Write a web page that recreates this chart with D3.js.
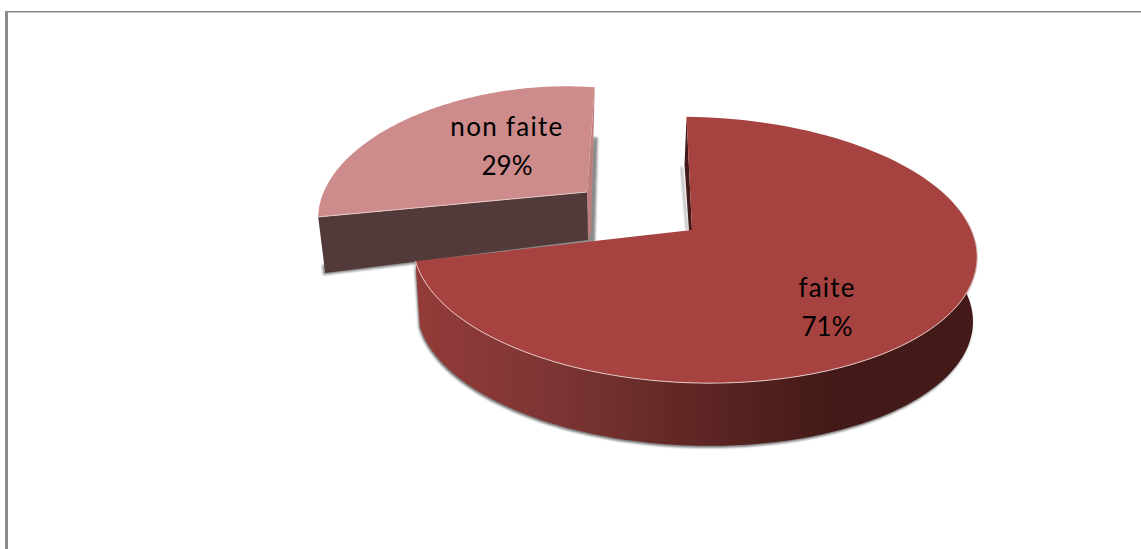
<!DOCTYPE html>
<html>
<head>
<meta charset="utf-8">
<script src="https://cdn.jsdelivr.net/npm/d3@7/dist/d3.min.js"></script>
<style>
html,body{margin:0;padding:0;background:#fff;overflow:hidden}
svg{display:block}
text{font-family:Lato,"Open Sans",sans-serif;fill:#000;text-anchor:middle}
</style>
</head>
<body>
<svg id="chart" width="1141" height="549"></svg>
<script>
// Share of work done / not done, shown as an exploded 3D pie
const categories = ["faite", "non faite"];
const shares = [71, 29];

const deg = Math.PI / 180;
const svg = d3.select("#chart");

// Chart frame: top and left rules only
svg.append("rect").attr("x", 5).attr("y", 11).attr("width", 1136).attr("height", 1.5).attr("fill", "#878787");
svg.append("rect").attr("x", 5).attr("y", 11).attr("width", 3).attr("height", 538).attr("fill", "#8c8c8c");

const defs = svg.append("defs");
defs.append("filter").attr("id", "soft").attr("x", "-5%").attr("y", "-5%").attr("width", "110%").attr("height", "110%")
  .append("feGaussianBlur").attr("stdDeviation", 1.3);

const wallGrad = defs.append("linearGradient").attr("id", "wall")
  .attr("gradientUnits", "userSpaceOnUse").attr("x1", 420).attr("x2", 970).attr("y1", 0).attr("y2", 0);
[[0, "#933b39"], [0.25, "#7c3533"], [0.5, "#5f2624"], [0.75, "#431a17"], [1, "#431a17"]]
  .forEach(([o, c]) => wallGrad.append("stop").attr("offset", o).attr("stop-color", c));

const pie = d3.pie().sort(null).startAngle(-2 * deg).endAngle(358 * deg);
const arcs = pie(shares);

const line = d3.line();
const sweep = (a0, a1) => d3.range(0, 121).map(i => a0 + (a1 - a0) * i / 120);

// Perspective ground-plane projection of a rim angle onto the page
function projector(p) {
  return a => {
    const s = 1 / (1 + p.persp * Math.cos(a));
    const dx = p.rx * Math.sin(a) * s;
    const dy = -p.ry * Math.cos(a) * s;
    return [p.cx + dx, p.cy + dy + p.roll * dx];
  };
}

const bigView = { cx: 695, cy: 230, rx: 279, ry: 130, persp: 0.15, roll: 0.025, apex: [692, 230], depth: 65, shrink: 0.985 };
// The pulled-out slice uses its own elliptical frame around its mid angle
const smallView = { cx: 538, cy: 203, ux: -133, uy: -83, vx: 175, vy: -82, apex: [587, 192] };

function lowerRim(view, pts) {
  return pts.map(([x, y]) => [view.cx + (x - view.cx) * view.shrink, view.cy + (y - view.cy) * view.shrink + view.depth]);
}

// --- "non faite" slice, set back to the upper left ---
{
  const d = arcs[1], mid = (d.startAngle + d.endAngle) / 2, v = smallView;
  const proj = a => {
    const c = Math.cos(a - mid), s = Math.sin(a - mid);
    return [v.cx + v.ux * c + v.vx * s, v.cy + v.uy * c + v.vy * s];
  };
  const rim = sweep(d.startAngle, d.endAngle).map(proj);
  const left = rim[0], top = rim[rim.length - 1], ap = v.apex;
  const leftLow = [left[0] + 7, left[1] + 56];
  const apLow = [ap[0] + 1, ap[1] + 48];
  const g = svg.append("g");
  // soft cast shadow behind the cut faces
  g.append("path").attr("d", line([[top[0] - 2, top[1] + 50], [top[0] + 3, top[1] + 50], [apLow[0] + 7, apLow[1] + 2], [leftLow[0] - 2, leftLow[1] + 2], [leftLow[0] - 3, leftLow[1] - 8], [apLow[0], apLow[1] - 30]]) + "Z")
    .attr("fill", "#8a8a8a").attr("filter", "url(#soft)");
  g.append("path").attr("d", line([top, ap, apLow, [apLow[0] + 3, apLow[1] - 8]]) + "Z").attr("fill", "#bd7f7e");
  g.append("path").attr("d", line([left, ap, apLow, leftLow]) + "Z").attr("fill", "#523a3a");
  g.append("path").attr("d", line([...rim, ap]) + "Z").attr("fill", "#cd8c8b");
  g.append("path").attr("d", line([left, ap])).attr("fill", "none").attr("stroke", "#e6c9c8").attr("stroke-width", 1);
}

// --- "faite" slice ---
{
  const d = arcs[0], proj = projector(bigView);
  const rim = sweep(d.startAngle, d.endAngle).map(proj);
  const ap = bigView.apex, top = rim[0];
  const visible = sweep(75 * deg, d.endAngle).map(proj);
  const band = [...visible, ...lowerRim(bigView, visible).reverse()];
  const g = svg.append("g");
  g.append("path").attr("d", line(band) + "Z").attr("transform", "translate(-1,2)")
    .attr("fill", "#777").attr("filter", "url(#soft)");
  // inner cut face visible beside the vertical edge
  g.append("path").attr("d", line([[top[0] - 4, top[1] + 50], [ap[0] - 4, ap[1]], [ap[0] - 6, ap[1]], [top[0] - 6, top[1] + 50]]) + "Z")
    .attr("fill", "#a9a9a9").attr("filter", "url(#soft)");
  g.append("path").attr("d", line([top, ap, [ap[0] - 3, ap[1] + 1], [top[0] - 2, top[1] + 48]]) + "Z").attr("fill", "#431a17");
  g.append("path").attr("d", line(band) + "Z").attr("fill", "url(#wall)");
  g.append("path").attr("d", line([...rim, ap]) + "Z").attr("fill", "#a64340");
  g.append("path").attr("d", line(visible)).attr("fill", "none").attr("stroke", "#e3c6c4").attr("stroke-width", 1);
}

// Data labels: category above its percentage
const labelSpots = [[827, 288, 327], [507, 127, 166]];
categories.forEach((name, i) => {
  const [x, y1, y2] = labelSpots[i];
  const t = svg.append("g").style("font-size", "26px");
  t.append("text").attr("x", x).attr("y", y1 + 9).attr("letter-spacing", i ? 1.3 : 1.2).text(name);
  t.append("text").attr("x", x).attr("y", y2 + 9).text(`${shares[i]}%`);
});
</script>
</body>
</html>
